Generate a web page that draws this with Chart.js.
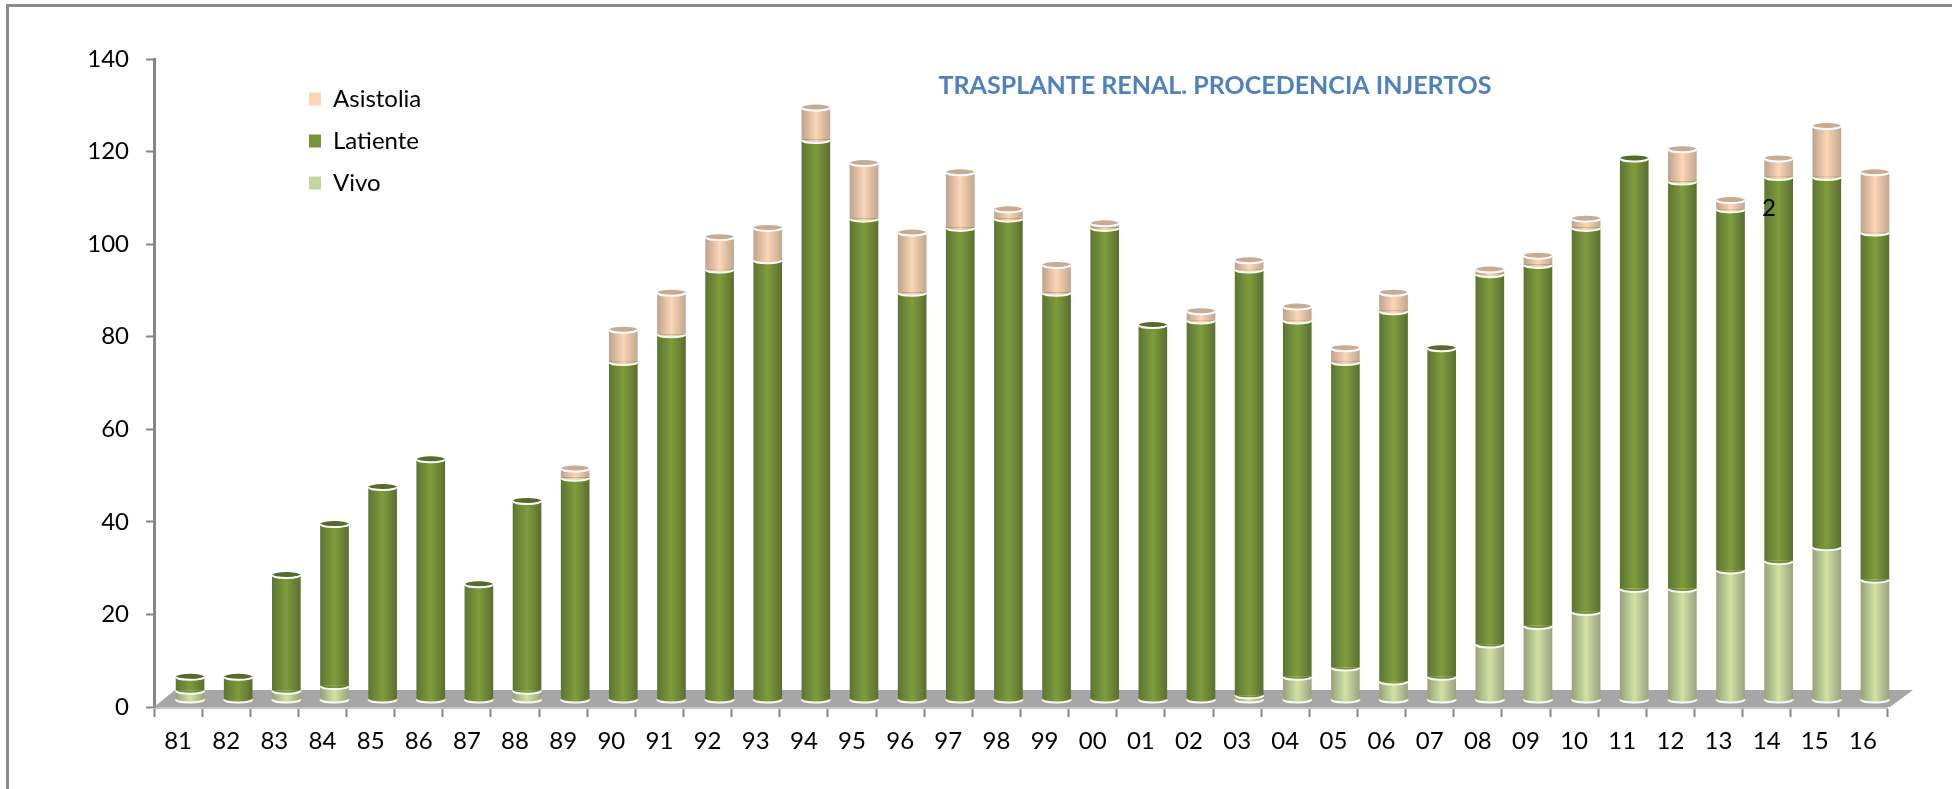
<!DOCTYPE html>
<html>
<head>
<meta charset="utf-8">
<title>Trasplante renal</title>
<script src="https://cdn.jsdelivr.net/npm/chart.js@4/dist/chart.umd.min.js"></script>
<style>
  html, body { margin: 0; padding: 0; background: #fff; overflow: hidden; }
  #wrap { position: relative; width: 1952px; height: 789px; overflow: hidden; }
  #frame { position: absolute; left: 6px; top: 4px; width: 2000px; height: 900px; border: 3px solid #8a8a8a; box-sizing: border-box; pointer-events: none; }
</style>
</head>
<body>
<div id="wrap">
  <canvas id="chart" width="1952" height="789"></canvas>
  <div id="frame"></div>
</div>
<script>
var years = ['81','82','83','84','85','86','87','88','89','90','91','92','93','94','95','96','97','98',
  '99','00','01','02','03','04','05','06','07','08','09','10','11','12','13','14','15','16'];
var vivo = [2,0,2,3,0,0,0,2,0,0,0,0,0,0,0,0,0,0,0,0,0,0,1,5,7,4,5,12,16,19,24,24,28,30,33,26];
var latiente = [3,5,25,35,46,52,25,41,48,73,79,93,95,121,104,88,102,104,88,102,81,82,92,77,66,80,71,80,78,83,93,88,78,83,80,75];
var asistolia = [0,0,0,0,0,0,0,0,2,7,9,7,7,7,12,13,12,2,6,1,0,2,2,3,3,4,0,1,2,2,0,7,2,4,11,13];

var chartTitle = 'TRASPLANTE RENAL. PROCEDENCIA INJERTOS';
var strayLabel = '2';

var BAR_W = 28, RY = 3, SHIFT_X = 12, SHIFT_Y = -7;

// edge, middle, other edge, cap, legend swatch
var shades = {
  Vivo: ['#98a27c', '#d0e3a3', '#9aa47e', '#c3d69b', '#c3d69b'],
  Latiente: ['#5c7632', '#7f9c3d', '#5a7030', '#556b2a', '#77933c'],
  Asistolia: ['#bfa48e', '#fcd6b6', '#c2a791', '#c9ab92', '#fcd5b5']
};

function barFill(name) {
  return function (c) {
    var cx = c.chart.scales.x.getPixelForValue(c.dataIndex);
    if (!isFinite(cx)) return shades[name][1];
    var g = c.chart.ctx.createLinearGradient(cx - BAR_W / 2, 0, cx + BAR_W / 2, 0);
    g.addColorStop(0, shades[name][0]);
    g.addColorStop(0.5, shades[name][1]);
    g.addColorStop(1, shades[name][2]);
    return g;
  };
}

function frontArc(ctx, x, y) {
  ctx.beginPath();
  ctx.ellipse(x, y, BAR_W / 2, RY, 0, -0.06, Math.PI + 0.06);
}

var cylinders = {
  id: 'cylinders',
  beforeDatasetsDraw: function (chart) {
    var ctx = chart.ctx, a = chart.chartArea, y0 = chart.scales.y.getPixelForValue(0);
    // floor of the 3d plot
    ctx.fillStyle = '#a6a6a6';
    ctx.beginPath();
    ctx.moveTo(a.left, y0);
    ctx.lineTo(a.left + 21, y0 - 17);
    ctx.lineTo(a.right + 26, y0 - 17);
    ctx.lineTo(a.right + 3, y0);
    ctx.closePath();
    ctx.fill();
    ctx.save();
    ctx.translate(SHIFT_X, SHIFT_Y);
  },
  afterDatasetsDraw: function (chart) {
    var ctx = chart.ctx;
    // every segment bulges down over the one below it
    chart.data.datasets.forEach(function (ds, d) {
      chart.getDatasetMeta(d).data.forEach(function (bar, i) {
        if (!ds.data[i]) return;
        ctx.fillStyle = bar.options.backgroundColor;
        ctx.strokeStyle = '#f8faf0';
        ctx.lineWidth = 2;
        frontArc(ctx, bar.x, bar.base);
        ctx.fill();
        ctx.stroke();
      });
    });
    // cap on the top of each column
    years.forEach(function (y, i) {
      var total = vivo[i] + latiente[i] + asistolia[i];
      var name = asistolia[i] ? 'Asistolia' : 'Latiente';
      var x = chart.getDatasetMeta(0).data[i].x;
      var yTop = chart.scales.y.getPixelForValue(total);
      ctx.fillStyle = shades[name][3];
      ctx.beginPath();
      ctx.ellipse(x, yTop, BAR_W / 2, RY, 0, 0, Math.PI * 2);
      ctx.fill();
      ctx.strokeStyle = '#fff';
      ctx.lineWidth = 2;
      frontArc(ctx, x, yTop);
      ctx.stroke();
    });
    ctx.restore();
    // loose label sitting on the chart
    ctx.fillStyle = '#000';
    ctx.font = '24px Lato';
    ctx.textAlign = 'center';
    ctx.textBaseline = 'middle';
    ctx.fillText(strayLabel, 1769, 208);
  },
  afterLayout: function (chart) {
    var t = chart.titleBlock, l = chart.legend;
    t.left = 900; t.right = 1530; t.width = 630;
    t.top = 67; t.bottom = 104;
    l.left = 291; l.right = 500; l.top = 69; l.bottom = 260;
  }
};

new Chart(document.getElementById('chart'), {
  type: 'bar',
  data: {
    labels: years,
    datasets: [
      { label: 'Vivo', data: vivo, backgroundColor: barFill('Vivo'), clip: false },
      { label: 'Latiente', data: latiente, backgroundColor: barFill('Latiente'), clip: false },
      { label: 'Asistolia', data: asistolia, backgroundColor: barFill('Asistolia'), clip: false }
    ]
  },
  options: {
    responsive: false,
    animation: false,
    barThickness: BAR_W,
    layout: { padding: { top: 21.5, right: 65, left: 0, bottom: 0 } },
    scales: {
      x: {
        stacked: true,
        afterFit: function (s) { s.height = 82; },
        border: { color: '#c4c4c4', width: 3 },
        grid: { drawOnChartArea: false, drawTicks: true, tickLength: 10, tickColor: '#868686', tickWidth: 2, offset: true },
        ticks: { color: '#000', font: { family: 'Lato', size: 24 }, padding: 10, maxRotation: 0, autoSkip: false }
      },
      y: {
        stacked: true,
        min: 0,
        max: 140,
        afterFit: function (s) { s.width = 154; },
        border: { color: '#868686', width: 3 },
        grid: { drawOnChartArea: false, drawTicks: true, tickLength: 8, tickColor: '#868686', tickWidth: 2 },
        ticks: { stepSize: 20, color: '#000', font: { family: 'Lato', size: 24 }, padding: 17 }
      }
    },
    plugins: {
      tooltip: { enabled: false },
      title: {
        display: true,
        text: chartTitle,
        position: 'top',
        color: '#4f81bd',
        font: { family: 'Lato', size: 25, weight: 'bold', lineHeight: 1.5 },
        padding: 0
      },
      legend: {
        display: true,
        position: 'chartArea',
        align: 'start',
        reverse: true,
        labels: {
          color: '#000',
          font: { family: 'Lato', size: 24 },
          boxWidth: 12,
          boxHeight: 13,
          padding: 18,
          generateLabels: function (chart) {
            return Chart.defaults.plugins.legend.labels.generateLabels(chart).map(function (item) {
              item.fillStyle = shades[item.text][4];
              item.strokeStyle = shades[item.text][4];
              return item;
            });
          }
        }
      }
    }
  },
  plugins: [cylinders]
});
</script>
</body>
</html>
